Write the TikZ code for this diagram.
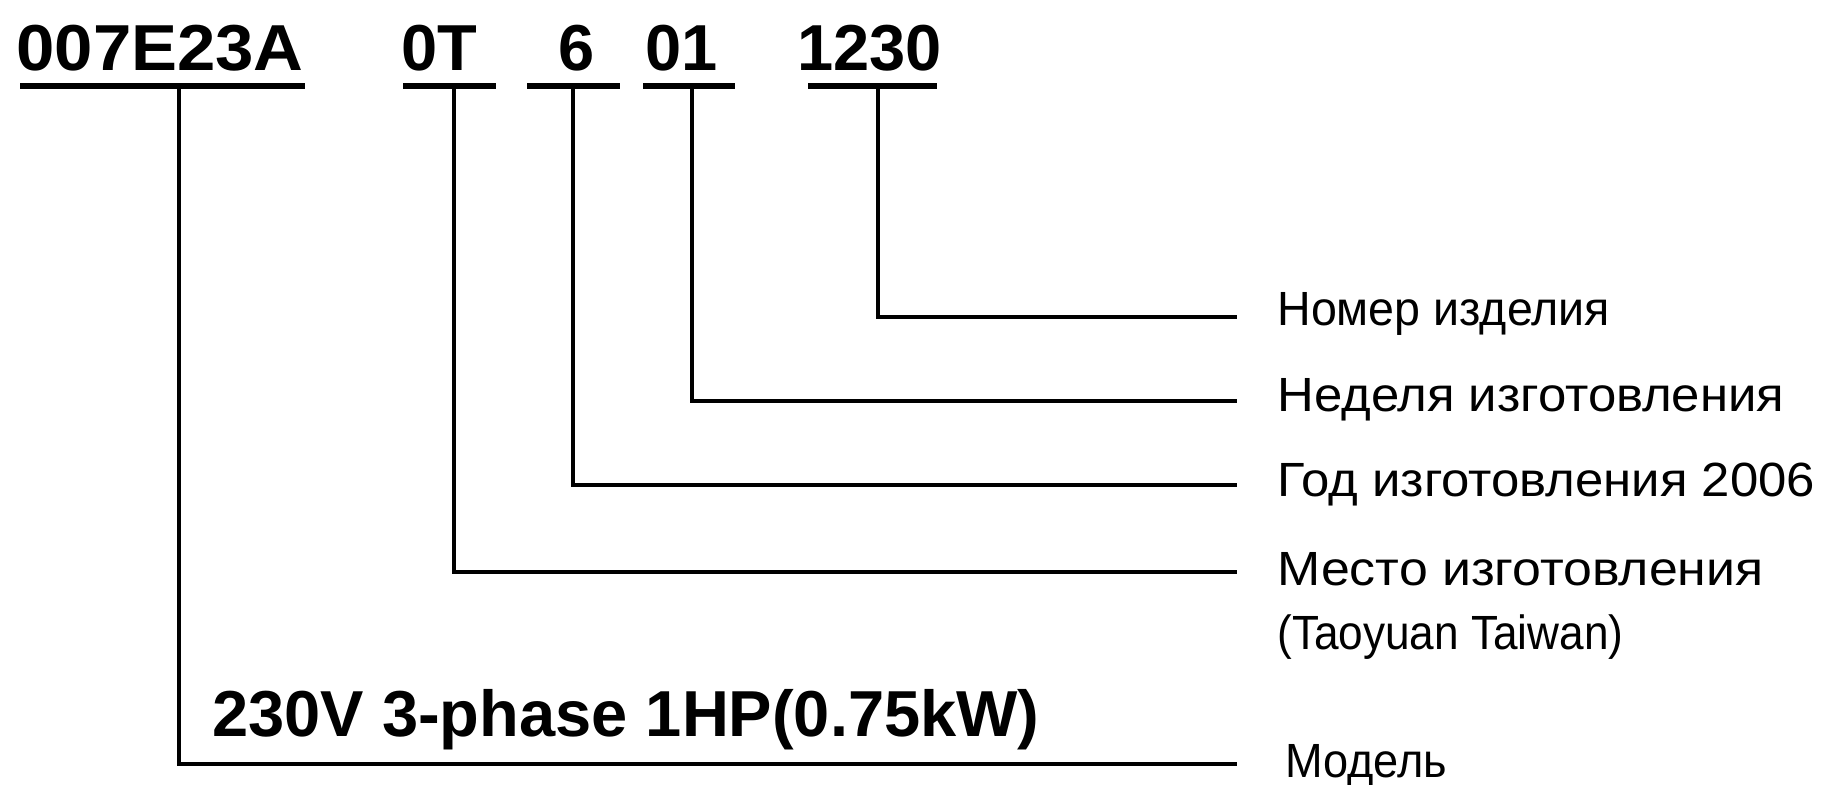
\documentclass[tikz,border=0pt]{standalone}
\usepackage{fontspec}
\setmainfont{Liberation Sans}
\begin{document}
\begin{tikzpicture}[x=0.5pt,y=-0.5pt,
  code/.style={font=\fontsize{32.5}{36}\selectfont\bfseries, inner sep=0pt, anchor=base west},
  lab/.style={font=\fontsize{24}{28}\selectfont, inner sep=0pt, anchor=base west},
  uline/.style={line width=2.6pt},
  conn/.style={line width=2.1pt}]
\useasboundingbox (0,0) rectangle (1832,785);
% code parts
\node[code] (c1) at (16,71) {\scalebox{1.06}[1]{007E23A}};
\node[code] (c2) at (401,71) {0T};
\node[code] (c3) at (558,71) {6};
\node[code] (c4) at (645,71) {01};
\node[code] (c5) at (797,71) {1230};
% underlines
\draw[uline] (20,86) -- (305,86);
\draw[uline] (403,86) -- (496,86);
\draw[uline] (527,86) -- (620,86);
\draw[uline] (643,86) -- (735,86);
\draw[uline] (808,86) -- (937,86);
\coordinate (u1) at (179,86);
\coordinate (u2) at (454,86);
\coordinate (u3) at (573,86);
\coordinate (u4) at (692,86);
\coordinate (u5) at (878,86);
% line ends
\coordinate (e5) at (1237,317);
\coordinate (e4) at (1237,401);
\coordinate (e3) at (1237,485);
\coordinate (e2) at (1237,572);
\coordinate (e1) at (1237,764);
% labels
\node[lab] (l5) at (1277,326) {\scalebox{0.97}[1]{Номер изделия}};
\node[lab] (l4) at (1277,412) {\scalebox{1.06}[1]{Неделя изготовления}};
\node[lab] (l3) at (1277,497) {\scalebox{1.06}[1]{Год изготовления 2006}};
\node[lab] (l2) at (1277,586) {\scalebox{1.08}[1]{Место изготовления}};
\node[lab] (l2b) at (1277,650) {\scalebox{0.92}[1]{(Taoyuan Taiwan)}};
\node[lab] (l1) at (1285,777) {\scalebox{0.94}[1]{Модель}};
% model text
\node[code] (m) at (212,737) {230V 3-phase 1HP(0.75kW)};
% connectors
\draw[conn] (u5) |- (e5);
\draw[conn] (u4) |- (e4);
\draw[conn] (u3) |- (e3);
\draw[conn] (u2) |- (e2);
\draw[conn] (u1) |- (e1);
\end{tikzpicture}
\end{document}
